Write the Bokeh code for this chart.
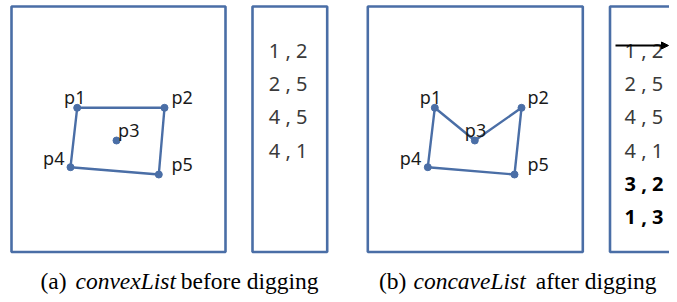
from bokeh.plotting import figure
from bokeh.models import Range1d, Arrow, NormalHead
from bokeh.core.properties import value
from bokeh.embed import file_html
from bokeh.resources import INLINE

# ---------------- data ----------------
point_names = ["p1", "p2", "p3", "p4", "p5"]

# panel (a): convex hull, points in page coordinates
convex_px = [76.7, 164.0, 116.0, 70.0, 158.3]
convex_py = [107.3, 107.3, 140.0, 166.7, 174.0]
convex_order = [0, 1, 4, 3, 0]            # p1-p2-p5-p4-p1
convex_label_x = [74.3, 181.7, 128.3, 53.3, 181.7]
convex_label_y = [103.5, 103.8, 136.0, 164.0, 170.5]   # text baselines

# panel (b): concave hull after digging
concave_px = [434.3, 521.0, 474.3, 427.3, 514.0]
concave_py = [107.3, 107.3, 140.0, 166.7, 174.0]
concave_order = [0, 2, 1, 4, 3, 0]        # p1-p3-p2-p5-p4-p1
concave_label_x = [430.0, 537.7, 475.0, 410.0, 537.7]
concave_label_y = [103.5, 103.5, 136.0, 164.0, 170.0]

# edge lists
convex_list = ["1 , 2", "2 , 5", "4 , 5", "4 , 1"]
concave_list = ["1 , 2", "2 , 5", "4 , 5", "4 , 1", "3 , 2", "1 , 3"]
concave_is_new = [False, False, False, False, True, True]
concave_removed_row = 0
row_baseline = [57.3, 90.7, 124.0, 157.3, 190.7, 224.0]
convex_list_x = 268.3
concave_list_x = 624.0

# frames: main panel a, list a, main panel b, list b
box_left = [11.0, 252.0, 367.3, 609.5]
box_right = [225.0, 326.7, 582.3, 690.0]
box_top = [6.0, 6.0, 6.0, 6.0]
box_bottom = [251.5, 251.5, 251.5, 251.5]

# captions (pieces: normal / italic / normal)
caption_a = ["(a)", "convexList", "before digging"]
caption_b = ["(b)", "concaveList", "after digging"]
caption_a_x = [40.0, 75.0, 318.0]
caption_b_x = [378.5, 413.0, 656.0]
caption_baseline = 289.0

BLUE = "#4a6ea6"
BASE_SHIFT = 0.38   # empirical correction (in em) for the rendered baseline


def base(y, fs):
    return [v - BASE_SHIFT * fs for v in y]


# ---------------- figure ----------------
p = figure(width=669, height=294,
           x_range=Range1d(0, 669), y_range=Range1d(294, 0),
           toolbar_location=None, output_backend="svg",
           x_axis_location=None, y_axis_location=None, min_border=0)
p.grid.visible = False
p.outline_line_color = None
p.background_fill_color = "white"
p.border_fill_color = "white"

# frames
p.quad(left=box_left, right=box_right, top=box_top, bottom=box_bottom,
       fill_color=None, line_color=BLUE, line_width=2.6)

# hull polygons
p.line([convex_px[i] for i in convex_order], [convex_py[i] for i in convex_order],
       line_color=BLUE, line_width=2.4)
p.line([concave_px[i] for i in concave_order], [concave_py[i] for i in concave_order],
       line_color=BLUE, line_width=2.4)

# points
p.scatter(convex_px, convex_py, size=7, fill_color=BLUE, line_color=BLUE)
p.scatter(concave_px, concave_py, size=7, fill_color=BLUE, line_color=BLUE)

# point labels
LFS = 18
lab_kw = dict(text_font=value("Noto Sans"), text_font_size=f"{LFS}px",
              text_color="#1a1a1a", text_align="center", text_baseline="alphabetic")
p.text(convex_label_x, base(convex_label_y, LFS), text=point_names, **lab_kw)
p.text(concave_label_x, base(concave_label_y, LFS), text=point_names, **lab_kw)

# edge lists
TFS = 20
list_kw = dict(text_font=value("Noto Sans"), text_font_size=f"{TFS}px",
               text_align="left", text_baseline="alphabetic")
p.text([convex_list_x] * len(convex_list), base(row_baseline[:len(convex_list)], TFS),
       text=convex_list, text_color="#3a3a3a", **list_kw)
old_rows = [i for i, n in enumerate(concave_is_new) if not n]
new_rows = [i for i, n in enumerate(concave_is_new) if n]
p.text([concave_list_x] * len(old_rows), base([row_baseline[i] for i in old_rows], TFS),
       text=[concave_list[i] for i in old_rows], text_color="#3a3a3a", **list_kw)
p.text([concave_list_x] * len(new_rows), base([row_baseline[i] for i in new_rows], TFS),
       text=[concave_list[i] for i in new_rows], text_color="black",
       text_font_style="bold", **list_kw)

# strike-through arrow over the removed edge
ry = row_baseline[concave_removed_row] - 12.3
p.add_layout(Arrow(end=NormalHead(size=7, line_color="black", fill_color="black", line_width=1),
                   x_start=concave_list_x - 9, y_start=ry,
                   x_end=concave_list_x + 44, y_end=ry,
                   line_color="black", line_width=2))

# captions
CFS = 23.5
cap_kw = dict(text_font=value("Liberation Serif"), text_font_size=f"{CFS}px",
              text_color="black", text_baseline="alphabetic")
cy = base([caption_baseline], CFS)
for pieces, xs in ((caption_a, caption_a_x), (caption_b, caption_b_x)):
    p.text([xs[0]], cy, text=[pieces[0]], text_align="left", **cap_kw)
    p.text([xs[1]], cy, text=[pieces[1]], text_align="left",
           text_font_style="italic", **cap_kw)
    p.text([xs[2]], cy, text=[pieces[2]], text_align="right", **cap_kw)

open("out.html", "w").write(file_html(p, INLINE))
